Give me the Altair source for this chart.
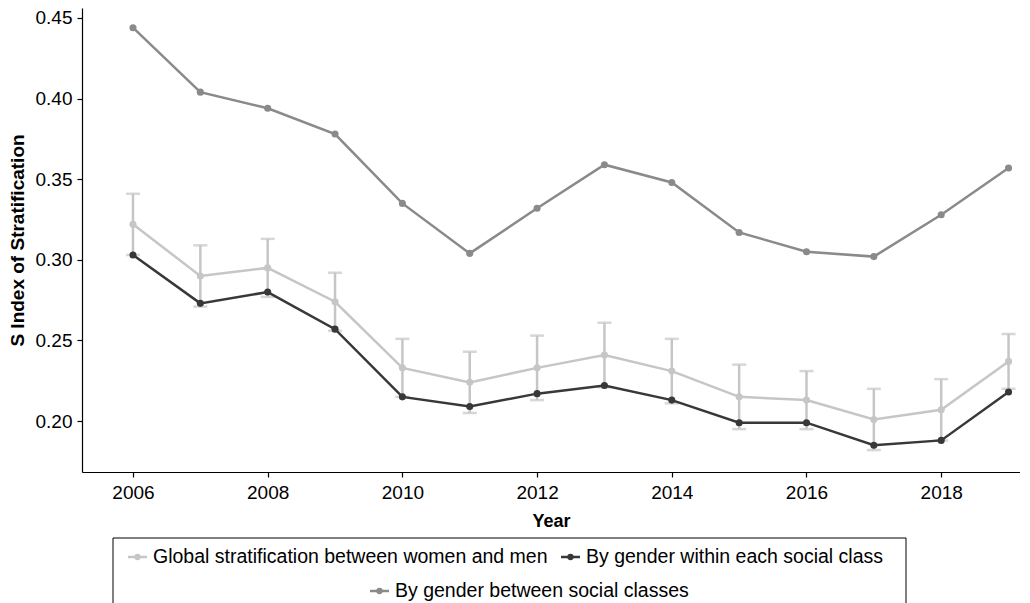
import altair as alt
import pandas as pd

years = list(range(2006, 2020))
global_strat = [0.322, 0.290, 0.295, 0.274, 0.233, 0.224, 0.233, 0.241, 0.231, 0.215, 0.213, 0.201, 0.207, 0.237]
global_lower = [0.303, 0.271, 0.277, 0.256, 0.215, 0.205, 0.213, 0.221, 0.211, 0.195, 0.195, 0.182, 0.188, 0.220]
global_upper = [0.341, 0.309, 0.313, 0.292, 0.251, 0.243, 0.253, 0.261, 0.251, 0.235, 0.231, 0.220, 0.226, 0.254]
within_class = [0.303, 0.273, 0.280, 0.257, 0.215, 0.209, 0.217, 0.222, 0.213, 0.199, 0.199, 0.185, 0.188, 0.218]
between_class = [0.444, 0.404, 0.394, 0.378, 0.335, 0.304, 0.332, 0.359, 0.348, 0.317, 0.305, 0.302, 0.328, 0.357]

series_names = ["Global stratification between women and men",
                "By gender within each social class",
                "By gender between social classes"]
series_colors = ["#c6c6c6", "#383838", "#8a8a8a"]
x_ticks = [2006, 2008, 2010, 2012, 2014, 2016, 2018]
y_ticks = [0.20, 0.25, 0.30, 0.35, 0.40, 0.45]

FONT = "Liberation Sans"

rows = []
for name, vals in zip(series_names, [global_strat, within_class, between_class]):
    for y, v in zip(years, vals):
        rows.append({"Year": y, "value": v, "series": name})
long_df = pd.DataFrame(rows)
err_df = pd.DataFrame({"Year": years, "lo": global_lower, "hi": global_upper})

x_enc = alt.X("Year:Q", scale=alt.Scale(domain=[2005.243, 2019.17], nice=False, zero=False),
              axis=alt.Axis(values=x_ticks, format="d", title="Year", grid=False,
                            tickSize=5, labelPadding=6, titlePadding=10))
y_scale = alt.Scale(domain=[0.1684, 0.4562], nice=False, zero=False)
color_scale = alt.Scale(domain=series_names, range=series_colors)

err_rule = alt.Chart(err_df).mark_rule(color=series_colors[0], strokeWidth=2.5).encode(
    x=x_enc,
    y=alt.Y("lo:Q", scale=y_scale,
            axis=alt.Axis(values=y_ticks, format=".2f", title="S Index of Stratification",
                          grid=False, tickSize=5, labelPadding=5, titlePadding=8,
                          titleFontSize=19)),
    y2="hi:Q",
)
cap_hi = alt.Chart(err_df).mark_tick(color=series_colors[0], thickness=2.5, size=14, orient="horizontal").encode(
    x="Year:Q", y=alt.Y("hi:Q", scale=y_scale))
cap_lo = alt.Chart(err_df).mark_tick(color=series_colors[0], thickness=2.5, size=14, orient="horizontal").encode(
    x="Year:Q", y=alt.Y("lo:Q", scale=y_scale))

base = alt.Chart(long_df).encode(
    x="Year:Q",
    y=alt.Y("value:Q", scale=y_scale),
    color=alt.Color("series:N", scale=color_scale, legend=None),
    detail="series:N",
)
lines = base.mark_line(strokeWidth=2.5)
points = base.mark_circle(size=50, opacity=1)

# manual legend (boxed, two rows, centered)
box_df = pd.DataFrame({"k": [0]})
legend_box = alt.Chart(box_df).mark_rect(fill="white", stroke="black", strokeWidth=1).encode(
    x=alt.value(31), x2=alt.value(824), y=alt.value(530), y2=alt.value(650))

legend_layers = []
item_pos = [(46, 549), (479, 549), (288, 583)]
for name, col, (lx, ly) in zip(series_names, series_colors, item_pos):
    d = pd.DataFrame({"label": [name]})
    legend_layers.append(alt.Chart(d).mark_rule(color=col, strokeWidth=2.5).encode(
        x=alt.value(lx), x2=alt.value(lx + 19), y=alt.value(ly)))
    legend_layers.append(alt.Chart(d).mark_circle(color=col, size=40, opacity=1).encode(
        x=alt.value(lx + 9.5), y=alt.value(ly)))
    legend_layers.append(alt.Chart(d).mark_text(align="left", baseline="middle", fontSize=19.5,
                                                font=FONT, color="black").encode(
        x=alt.value(lx + 25), y=alt.value(ly), text="label:N"))

chart = alt.layer(err_rule, cap_hi, cap_lo, lines, points, legend_box, *legend_layers).properties(
    width=938, height=464,
    autosize=alt.AutoSizeParams(type="none"),
    padding={"left": 74, "top": 0, "right": 0, "bottom": 131},
).configure_view(stroke=None).configure_axis(
    labelFont=FONT, titleFont=FONT, labelFontSize=19, titleFontSize=18, titleFontWeight="bold",
    labelColor="black", titleColor="black", domainColor="black", tickColor="black",
    domainWidth=1.2, tickWidth=1.2,
)

chart.save("out.html", embed_options={"renderer": "svg", "actions": False})
